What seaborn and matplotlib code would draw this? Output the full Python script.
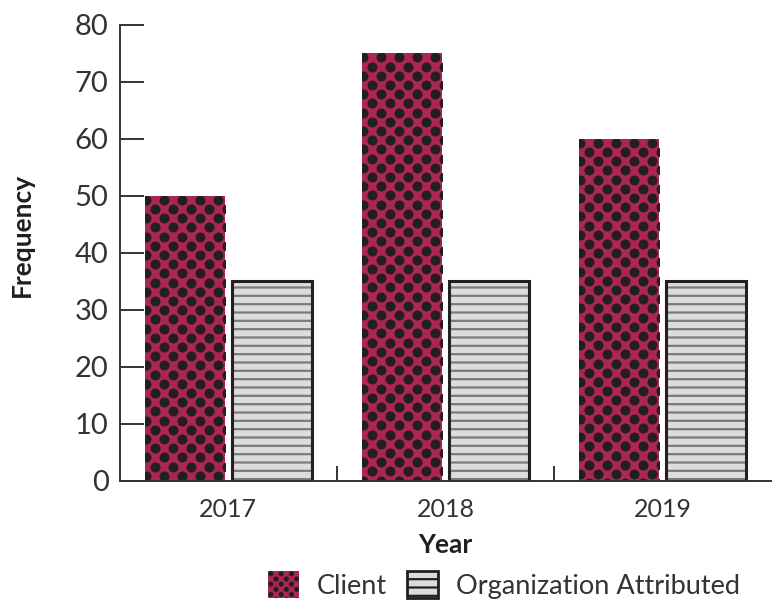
import numpy as np
import pandas as pd
import matplotlib
matplotlib.use("Agg")
import matplotlib.pyplot as plt
import seaborn as sns
from matplotlib.patches import Patch, Rectangle, Circle
from matplotlib.legend_handler import HandlerBase

# data
years = ["2017", "2018", "2019"]
client = [50, 75, 60]
org_attributed = [35, 35, 35]
series = ["Client", "Organization Attributed"]

df = pd.DataFrame({
    "Year": years * 2,
    "Frequency": client + org_attributed,
    "Source": [series[0]] * len(years) + [series[1]] * len(years),
})

crimson = "#ab2654"
dot_color = "#231f20"
light = "#dcdcdc"
line_gray = "#7a7a7a"
ink = "#231f20"
text_color = "#333333"

sns.set_theme(style="white")
plt.rcParams["font.family"] = ["Lato", "DejaVu Sans"]
plt.rcParams["hatch.linewidth"] = 1.6

fig = plt.figure(figsize=(7.72, 6.05), dpi=100)
ax = fig.add_axes([0.155, 0.205, 0.844, 0.754])

sns.barplot(data=df, x="Year", y="Frequency", hue="Source", order=years,
            hue_order=series, palette=[crimson, light], saturation=1,
            width=0.8, gap=0.08, legend=False, ax=ax)

ax.set_xlim(-0.5, 2.5)
ax.set_ylim(0, 80)
ax.set_autoscale_on(False)

bars = ax.patches
n = len(years)

# dotted texture on the client bars
def dot_texture(patch):
    (x0, y0), (x1, y1) = ax.transData.transform(
        [(patch.get_x(), patch.get_y()),
         (patch.get_x() + patch.get_width(), patch.get_y() + patch.get_height())])
    pts = []
    for i, yy in enumerate(np.arange(y1 - 4, y0 - 9, -9.2)):
        shift = 0 if i % 2 == 0 else 9
        for xx in np.arange(x0 + 1 + shift, x1 + 9, 18):
            pts.append((xx, yy))
    pts = ax.transData.inverted().transform(pts)
    sc = ax.scatter(pts[:, 0], pts[:, 1], s=52, color=dot_color, linewidths=0,
                    zorder=patch.get_zorder() + 0.1)
    sc.set_clip_path(patch)

for p in bars[:n]:
    p.set_linewidth(0)
    dot_texture(p)

# striped org bars with dark outline
for p in bars[n:2 * n]:
    p.set_edgecolor(line_gray)
    p.set_linewidth(0)
    p.set_hatch("--")
    ax.add_patch(Rectangle((p.get_x(), p.get_y()), p.get_width(), p.get_height(),
                           fill=False, edgecolor=ink, linewidth=2.2,
                           zorder=p.get_zorder() + 0.2))

# axes styling
for side in ["top", "right"]:
    ax.spines[side].set_visible(False)
for side in ["left", "bottom"]:
    ax.spines[side].set_color(text_color)
    ax.spines[side].set_linewidth(1.4)

ax.set_yticks(range(0, 81, 10))
ax.tick_params(axis="y", direction="in", length=17, width=1.4, color=text_color,
               labelsize=21, labelcolor=text_color, pad=8, left=True)
ax.set_xticks(range(n))
ax.set_xticklabels(years)
ax.set_xticks([0.5, 1.5], minor=True)
ax.tick_params(axis="x", which="major", length=0, labelsize=18,
               labelcolor=text_color, pad=12)
ax.tick_params(axis="x", which="minor", direction="in", length=11, width=1.4,
               color=text_color, bottom=True)

ax.set_xlabel("Year", fontsize=19, fontweight="bold", color=ink, labelpad=9)
ax.set_ylabel("Frequency", fontsize=19, fontweight="bold", color=ink)
ax.yaxis.set_label_coords(-0.132, 0.54)


class DotHandler(HandlerBase):
    def create_artists(self, legend, orig_handle, xdescent, ydescent,
                       width, height, fontsize, trans):
        rect = Rectangle((-xdescent, -ydescent), width, height,
                         facecolor=crimson, edgecolor="none", transform=trans)
        arts = [rect]
        step = width / 3.0
        for i, yy in enumerate(np.arange(height - step / 4, -step / 2, -step / 2)):
            shift = 0 if i % 2 == 0 else step / 2
            for xx in np.arange(shift + step / 4, width + step / 2, step):
                if xx > width + 1:
                    continue
                c = Circle((xx - xdescent, yy - ydescent), step * 0.25,
                           facecolor=dot_color, edgecolor="none", transform=trans)
                c.set_clip_path(rect)
                arts.append(c)
        return arts


handles = [
    Patch(facecolor=crimson, label=series[0]),
    Patch(facecolor=light, edgecolor=ink, linewidth=2, label=series[1]),
]
leg = fig.legend(handles=handles, loc="lower center", bbox_to_anchor=(0.653, -0.03),
                 ncol=2, frameon=False, fontsize=19.5, handlelength=1.15,
                 handleheight=1.15, handletextpad=0.65, columnspacing=0.75,
                 handler_map={handles[0]: DotHandler()})
for t in leg.get_texts():
    t.set_color(text_color)
# stripes for the org legend swatch
lh = leg.legend_handles[1]
lh.set_hatch("--")

fig.savefig("out.png", dpi=100)
